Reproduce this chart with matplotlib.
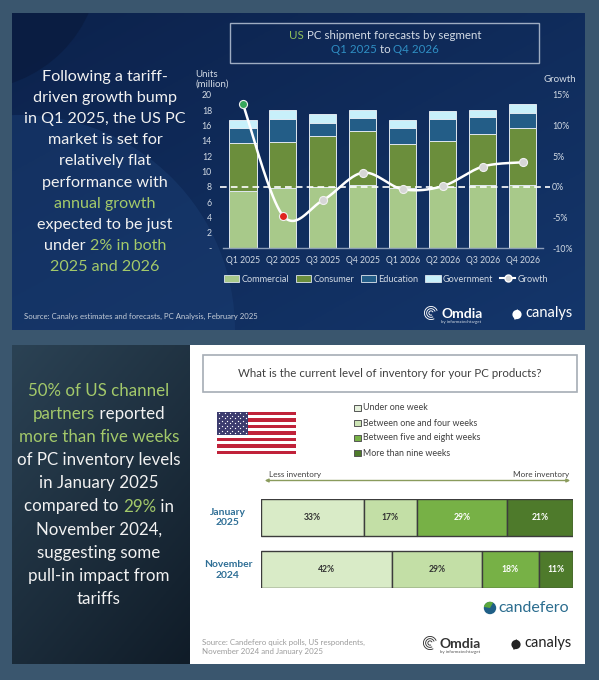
import numpy as np
import matplotlib
matplotlib.use('Agg')
import matplotlib.pyplot as plt
from matplotlib.patches import Rectangle, Circle, Patch, Wedge
from matplotlib.lines import Line2D

# ---------------- data ----------------
quarters = ['Q1 2025', 'Q2 2025', 'Q3 2025', 'Q4 2025', 'Q1 2026', 'Q2 2026', 'Q3 2026', 'Q4 2026']
commercial = [7.4, 7.8, 8.0, 8.2, 7.9, 8.0, 8.2, 8.2]
consumer = [6.3, 6.1, 6.6, 7.1, 5.7, 6.0, 6.7, 7.5]
education = [2.0, 3.0, 1.8, 1.7, 2.1, 2.8, 2.2, 2.0]
government = [1.0, 1.1, 1.1, 1.1, 1.0, 1.1, 1.0, 1.1]
growth = [13.5, -4.7, -2.2, 2.3, -0.4, 0.1, 3.3, 4.0]
segments = ['Commercial', 'Consumer', 'Education', 'Government']
units_ticks = [0, 2, 4, 6, 8, 10, 12, 14, 16, 18, 20]
growth_ticks = [-10, -5, 0, 5, 10, 15]

periods = ['January\n2025', 'November\n2024']
inv_labels = ['Under one week', 'Between one and four weeks',
              'Between five and eight weeks', 'More than nine weeks']
jan_2025 = [33, 17, 29, 21]
nov_2024 = [42, 29, 18, 11]

# ---------------- style ----------------
W, H = 599, 680
plt.rcParams['font.family'] = ['Lato', 'DejaVu Sans']
fig = plt.figure(figsize=(W / 100, H / 100), dpi=100)
fig.patch.set_facecolor('#3a566e')

GREEN_TXT = '#a3c96a'
LIGHT_TXT = '#d3dbe5'
seg_colors = ['#a8c98a', '#6b8e3c', '#235d87', '#c8f0fa']
inv_bar_colors = ['#d9ebc7', '#c3dfa6', '#77b146', '#4e7a2b']
inv_leg_colors = ['#e6f1dc', '#cde4b5', '#77b146', '#4e7a2b']


def rect(x0, y0, x1, y1):
    return [x0 / W, 1 - y1 / H, (x1 - x0) / W, (y1 - y0) / H]


bg = fig.add_axes([0, 0, 1, 1])
bg.set_xlim(0, W)
bg.set_ylim(H, 0)
bg.axis('off')

# top panel
top_panel = Rectangle((12, 13), 573, 317, facecolor='#0f2b59', edgecolor='none', zorder=1)
bg.add_patch(top_panel)
grad = np.linspace(0, 1, 200)[None, :] * np.ones((100, 1))
vert = np.linspace(0, 1, 100)[:, None]
g = 0.5 * grad + 0.5 * vert
c0 = np.array([0x0c, 0x22, 0x4c]) / 255
c1 = np.array([0x14, 0x36, 0x6b]) / 255
img = c0[None, None, :] * (1 - g[..., None]) + c1[None, None, :] * g[..., None]
im = bg.imshow(img, extent=(12, 585, 330, 13), zorder=1.1, aspect='auto')
im.set_clip_path(top_panel)
sw = Circle((20, 330), 215, facecolor='#1a3d72', alpha=0.5, edgecolor='none', zorder=1.2)
bg.add_patch(sw)
sw.set_clip_path(top_panel)
dk = Circle((-30, -40), 130, facecolor='#0a1c40', alpha=0.8, edgecolor='none', zorder=1.3)
bg.add_patch(dk)
dk.set_clip_path(top_panel)

# bottom panels
bl_panel = Rectangle((12, 345), 178, 319, facecolor='#1a2c3b', edgecolor='none', zorder=1)
bg.add_patch(bl_panel)
g2 = 0.6 * (1 - np.linspace(0, 1, 100)[:, None]) * np.ones((1, 60)) + 0.4 * (1 - np.linspace(0, 1, 60)[None, :])
d0 = np.array([0x10, 0x1c, 0x28]) / 255
d1 = np.array([0x2b, 0x42, 0x54]) / 255
img2 = d0[None, None, :] * (1 - g2[..., None]) + d1[None, None, :] * g2[..., None]
im2 = bg.imshow(img2, extent=(12, 190, 664, 345), zorder=1.1, aspect='auto')
im2.set_clip_path(bl_panel)
bg.add_patch(Rectangle((190, 345), 395, 319, facecolor='white', edgecolor='none', zorder=1))

renderer = fig.canvas.get_renderer()


def text_width(s, **kw):
    t1 = bg.text(0, 0, 'x' + s + 'x', **kw)
    t2 = bg.text(0, 0, 'xx', **kw)
    w = t1.get_window_extent(renderer).width - t2.get_window_extent(renderer).width
    t1.remove()
    t2.remove()
    return w


def rich(xc, yb, pieces, size, ha='center', weight='normal', zorder=5):
    widths = [text_width(s, fontsize=size, fontweight=weight) for s, _ in pieces]
    total = sum(widths)
    x = xc - total / 2 if ha == 'center' else xc
    for (s, c), w in zip(pieces, widths):
        bg.text(x, yb, s, color=c, fontsize=size, fontweight=weight,
                ha='left', va='baseline', zorder=zorder)
        x += w


# ---------------- top-left narrative ----------------
WT = '#f2f2f2'
top_lines = [
    [('Following a tariff-', WT)],
    [('driven growth bump', WT)],
    [('in Q1 2025, the US PC', WT)],
    [('market is set for', WT)],
    [('relatively flat', WT)],
    [('performance with', WT)],
    [('annual growth', GREEN_TXT)],
    [('expected to be just', WT)],
    [('under ', WT), ('2% in both', GREEN_TXT)],
    [('2025 and 2026', GREEN_TXT)],
]
for i, pcs in enumerate(top_lines):
    rich(105, 80.5 + i * 21.2, pcs, 11.6)

# title box
bg.add_patch(Rectangle((230, 23), 309, 40, facecolor='none', edgecolor='#9eacc2', lw=1, zorder=3))
rich(385, 39, [('US', '#8fc05c'), (' PC shipment forecasts by segment', LIGHT_TXT)], 8.3)
rich(385, 53, [('Q1 2025', '#2f8fc4'), (' to ', LIGHT_TXT), ('Q4 2026', '#2f8fc4')], 8.3)

# ---------------- top chart ----------------
ax = fig.add_axes(rect(223, 95, 542.5, 248))
ax.patch.set_alpha(0)
x = np.arange(len(quarters))
bottom = np.zeros(len(quarters))
for vals, col, name in zip([commercial, consumer, education, government], seg_colors, segments):
    ax.bar(x, vals, width=0.68, bottom=bottom, color=col, edgecolor='#dfe7ef', linewidth=0.7, zorder=2, label=name)
    bottom += np.array(vals)
ax.set_xlim(-0.5, 7.5)
ax.set_ylim(0, 20)
ax.set_yticks(units_ticks)
ax.set_yticklabels(['-' if v == 0 else str(v) for v in units_ticks])
ax.set_xticks(x)
ax.set_xticklabels(quarters)
ax.tick_params(axis='y', length=0, pad=8, labelsize=6.3, labelcolor=LIGHT_TXT)
ax.tick_params(axis='x', length=0, pad=6, labelsize=6.2, labelcolor=LIGHT_TXT)
for s in ['top', 'left', 'right']:
    ax.spines[s].set_visible(False)
ax.spines['bottom'].set_color('#8c9db8')
ax.spines['bottom'].set_linewidth(1.0)

ax2 = ax.twinx()
ax2.set_ylim(-10, 15)
ax2.set_yticks(growth_ticks)
ax2.set_yticklabels([f'{v}%' for v in growth_ticks])
ax2.tick_params(axis='y', length=0, pad=7, labelsize=6.3, labelcolor=LIGHT_TXT)
for s in ['top', 'left', 'right', 'bottom']:
    ax2.spines[s].set_visible(False)
ax2.axhline(0, xmin=-0.01, xmax=1.025, color='white', lw=1.2, ls=(0, (4, 2.5)), clip_on=False, zorder=3)


def smooth(xs, ys, n=40):
    P = np.column_stack([xs, ys]).astype(float)
    P = np.vstack([P[0], P, P[-1]])
    out = []
    t = np.linspace(0, 1, n)[:, None]
    for i in range(1, len(P) - 2):
        p0, p1, p2, p3 = P[i - 1], P[i], P[i + 1], P[i + 2]
        c1 = p1 + (p2 - p0) / 6
        c2 = p2 - (p3 - p1) / 6
        seg = (1 - t) ** 3 * p1 + 3 * (1 - t) ** 2 * t * c1 + 3 * (1 - t) * t ** 2 * c2 + t ** 3 * p2
        out.append(seg if i == 1 else seg[1:])
    return np.vstack(out)


curve = smooth(x, growth)
ax2.plot(curve[:, 0], curve[:, 1], color='white', lw=1.8, zorder=4, solid_capstyle='round')
mcols = ['#36a65a', '#e0231e'] + ['#d6d6d6'] * (len(growth) - 2)
for xi, gi, mc in zip(x, growth, mcols):
    ax2.plot([xi], [gi], marker='o', ms=5.8, mfc=mc, mec='#f0f0f0', mew=0.8, zorder=5)

bg.text(195, 79, 'Units\n(million)', fontsize=7.0, color=LIGHT_TXT, ha='left', va='center', linespacing=1.05, zorder=5)
bg.text(560, 79, 'Growth', fontsize=7.0, color=LIGHT_TXT, ha='center', va='center', zorder=5)

handles = [Patch(facecolor=c, edgecolor='#dfe7ef', lw=0.6) for c in seg_colors]
handles.append(Line2D([0], [0], color='white', lw=1.5, marker='o', ms=5, mfc='#d6d6d6', mec='white'))
leg = fig.legend(handles, segments + ['Growth'], loc='center', bbox_to_anchor=(386 / W, 1 - 279 / H),
                 ncol=5, frameon=False, fontsize=6.6, handlelength=1.7, handleheight=0.8,
                 handletextpad=0.25, columnspacing=0.7, labelcolor=LIGHT_TXT)

bg.text(24, 316, 'Source: Canalys estimates and forecasts, PC Analysis, February 2025',
        fontsize=5.6, color='#c5cdd8', ha='left', va='center', zorder=5)


def omdia_logo(x0, y0, col, sub):
    for r in [7, 4.8, 2.6]:
        bg.add_patch(Wedge((x0, y0), r, 60, 340, width=0.9, facecolor=col, edgecolor='none', zorder=6))
    bg.text(x0 + 10, y0 + 1, 'Omdia', fontsize=10, fontweight='bold', color=col, ha='left', va='center', zorder=6)
    bg.text(x0 + 10, y0 + 9.5, 'by informatechtarget', fontsize=3.2, color=sub, ha='left', va='center', zorder=6)


def canalys_logo(x0, y0, col):
    bg.add_patch(Circle((x0, y0 + 1.5), 4.6, facecolor=col, edgecolor='none', zorder=6))
    bg.add_patch(Wedge((x0 + 6.5, y0 + 3.5), 9.5, 160, 230, width=2.4, facecolor=col, edgecolor='none', zorder=6))
    bg.text(x0 + 8, y0, 'canalys', fontsize=10.5, color=col, ha='left', va='center', zorder=6)


omdia_logo(431, 313, 'white', '#d0d8e2')
canalys_logo(517, 313, 'white')

# ---------------- bottom-left narrative ----------------
bot_lines = [
    [('50% of US channel', GREEN_TXT)],
    [('partners', GREEN_TXT), (' reported', WT)],
    [('more than five weeks', GREEN_TXT)],
    [('of PC inventory levels', WT)],
    [('in January 2025', WT)],
    [('compared to ', WT), ('29%', GREEN_TXT), (' in', WT)],
    [('November 2024,', WT)],
    [('suggesting some', WT)],
    [('pull-in impact from', WT)],
    [('tariffs', WT)],
]
for i, pcs in enumerate(bot_lines):
    rich(99, 395.5 + i * 23.2, pcs, 12.2)

# ---------------- bottom-right chart ----------------
DK = '#404040'
bg.add_patch(Rectangle((202.5, 355), 374.5, 37, facecolor='white', edgecolor='#a6adb5', lw=1.2, zorder=3))
bg.text(390, 373.5, 'What is the current level of inventory for your PC products?',
        fontsize=8.3, color=DK, ha='center', va='center', zorder=5)

# flag
fx0, fy0, fw, fh = 216.6, 412, 79.4, 42
for k in range(13):
    bg.add_patch(Rectangle((fx0, fy0 + k * fh / 13), fw, fh / 13,
                           facecolor='#c0223a' if k % 2 == 0 else 'white', edgecolor='none', zorder=4))
cw, ch = fw * 0.4, fh * 7 / 13
bg.add_patch(Rectangle((fx0, fy0), cw, ch, facecolor='#3c3b6e', edgecolor='none', zorder=4.5))
sx, sy = [], []
for r in range(9):
    ncol = 6 if r % 2 == 0 else 5
    off = 0 if r % 2 == 0 else 0.5
    for c in range(ncol):
        sx.append(fx0 + cw * (c + off + 0.5) / 6)
        sy.append(fy0 + ch * (r + 0.5) / 9)
bg.scatter(sx, sy, s=0.9, color='white', zorder=5, linewidths=0)

# legend
for i, (lab, col) in enumerate(zip(inv_labels, inv_leg_colors)):
    yy = 408 + i * 15
    bg.add_patch(Rectangle((354, yy - 3.3), 6.6, 6.6, facecolor=col, edgecolor='#555555', lw=0.7, zorder=5))
    bg.text(363, yy, lab, fontsize=6.4, color=DK, ha='left', va='center', zorder=5)

# arrow
bg.annotate('', xy=(262, 480.5), xytext=(573, 480.5),
            arrowprops=dict(arrowstyle='<|-|>', color='#8a9b5c', lw=1.0, mutation_scale=5), zorder=5)
bg.text(269, 474, 'Less inventory', fontsize=5.9, color=DK, ha='left', va='center', zorder=5)
bg.text(569, 474, 'More inventory', fontsize=5.9, color=DK, ha='right', va='center', zorder=5)

ax3 = fig.add_axes(rect(260.6, 499, 573, 588))
ax3.patch.set_alpha(0)
ax3.set_xlim(0, 100)
ax3.set_ylim(1.343, -0.352)
ax3.axis('off')
txt_cols = ['#333333', '#333333', 'white', 'white']
for yi, vals in enumerate([jan_2025, nov_2024]):
    left = 0
    for v, col, tc in zip(vals, inv_bar_colors, txt_cols):
        ax3.barh(yi, v, left=left, height=0.705, color=col, edgecolor='#3c3c3c', lw=1.0, zorder=2)
        ax3.text(left + v / 2, yi, f'{v}%', fontsize=6.2, fontweight='bold', color=tc,
                 ha='center', va='center', zorder=3)
        left += v
for yc, lab in zip([517.5, 570], periods):
    bg.text(228, yc, lab, fontsize=7.4, fontweight='bold', color='#2f6f96',
            ha='center', va='center', linespacing=1.15, zorder=5)

# candefero logo
bg.add_patch(Circle((490, 608), 6.2, facecolor='#1f5f86', edgecolor='none', zorder=5))
bg.add_patch(Wedge((490, 608), 6.2, 190, 300, facecolor='#5aa63c', edgecolor='none', zorder=5.5))
bg.text(498, 608, 'candefero', fontsize=11.5, color='#2b6d8f', ha='left', va='center', zorder=5)

bg.text(202, 647, 'Source: Candefero quick polls, US respondents,\nNovember 2024 and January 2025',
        fontsize=5.7, color='#9c9c9c', ha='left', va='center', linespacing=1.45, zorder=5)
omdia_logo(430, 643, '#333333', '#555555')
canalys_logo(516, 643, '#222222')

fig.savefig('out.png', dpi=100, facecolor=fig.get_facecolor())
